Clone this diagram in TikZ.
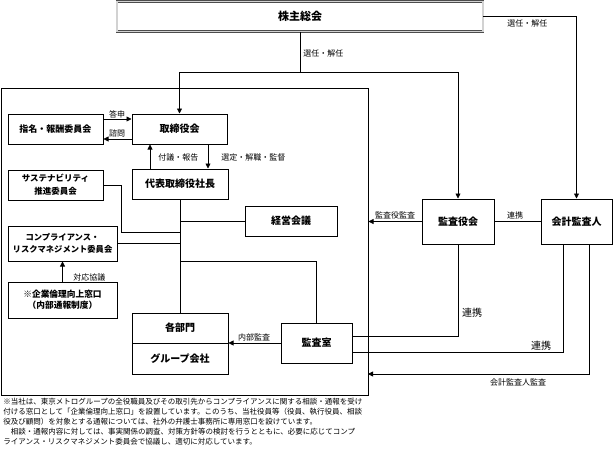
\documentclass[tikz,border=0pt]{standalone}
\usepackage{fontspec}
\setmainfont{Noto Sans CJK JP}
\usetikzlibrary{arrows.meta}
\tikzset{
    box/.style = {draw, line width=1pt, align=center, inner sep=0pt,
        font=\bfseries\fontsize{10}{12}\selectfont},
    lbl/.style = {inner sep=0pt, font=\fontsize{8}{9}\selectfont},
    arr/.style = {-{Triangle[length=5pt,width=5pt]}}
}

\begin{document}
\begin{tikzpicture}[x=1pt, y=-1pt, line width=0.8pt]
\useasboundingbox (0,0) rectangle (613,455);
% boxes
\node[box, draw=gray!60!black, double=gray!35, double distance=1.2pt, line width=0.6pt,
    minimum width=366pt, minimum height=30pt, font=\bfseries\fontsize{11}{13}\selectfont]
    (kabu) at (300,16.5) {株主総会};
\node[box, minimum width=367pt, minimum height=307pt] (frame) at (184.5,241.5) {};
\node[box, minimum width=95pt, minimum height=30pt, font=\bfseries\fontsize{9}{11}\selectfont]
    (shimei) at (55.5,129) {指名・報酬委員会};
\node[box, minimum width=95pt, minimum height=30pt] (torishimari) at (179.5,129) {取締役会};
\node[box, minimum width=96pt, minimum height=30pt] (daihyo) at (180,184) {代表取締役社長};
\node[box, minimum width=95pt, minimum height=30pt, font=\bfseries\fontsize{8.5}{13}\selectfont]
    (sustain) at (55.5,185) {サステナビリティ\\推進委員会};
\node[box, minimum width=92pt, minimum height=30pt] (keiei) at (291,221) {経営会議};
\node[box, minimum width=109pt, minimum height=35pt, font=\bfseries\fontsize{8.3}{12}\selectfont]
    (compla) at (62.5,243.5) {コンプライアンス・\\リスクマネジメント委員会};
\node[box, minimum width=109pt, minimum height=36pt, font=\bfseries\fontsize{8.7}{11}\selectfont]
    (rinri) at (62.5,300) {※企業倫理向上窓口\\（内部通報制度）};
\node[box, minimum width=96pt, minimum height=30pt] (bumon) at (180,328) {各部門};
\node[box, minimum width=96pt, minimum height=31pt] (group) at (180,358.5) {グループ会社};
\node[box, minimum width=71pt, minimum height=40pt] (kansashitsu) at (316.5,343) {監査室};
\node[box, minimum width=72pt, minimum height=45pt] (kansayaku) at (458,221.5) {監査役会};
\node[box, minimum width=71pt, minimum height=45pt] (kaikei) at (576.5,221.5) {会計監査人};
% connectors
\coordinate (split) at (300,72);
\coordinate (sbend) at (121,232);
\coordinate (kbranch) at (180,261);
\coordinate (audit) at (368,374);
\draw (kabu.south) -- (split);
\draw[arr] (split) -| (torishimari.north);
\draw[arr] (split) -| (kansayaku.north);
\draw[arr] (kabu.east) -| (kaikei.north);
\draw[arr] ([yshift=10pt]shimei.east) -- ([yshift=10pt]torishimari.west);
\draw[arr] ([yshift=-10pt]torishimari.west) -- ([yshift=-10pt]shimei.east);
\draw[arr] ([xshift=-30pt]daihyo.north) -- ([xshift=-30pt]daihyo.north |- torishimari.south);
\draw[arr] ([xshift=28pt]daihyo.north |- torishimari.south) -- ([xshift=28pt]daihyo.north);
\draw (daihyo.south) -- (bumon.north);
\draw (keiei.west) -- (keiei.west -| daihyo.south);
\draw (sustain.east) -| (sbend) -- (sbend -| daihyo.south);
\draw (compla.east) -- (compla.east -| daihyo.south);
\draw (kbranch) -| (kansashitsu.north);
\draw[arr] (rinri.north) -- (compla.south);
\draw[arr] (kansashitsu.west) -- (kansashitsu.west -| group.east);
\draw[arr] (kansayaku.west) -- (kansayaku.west -| frame.east);
\draw (kansayaku.east) -- (kaikei.west);
\draw (kansayaku.south) |- ([yshift=7pt]kansashitsu.east);
\draw ([xshift=-13.5pt]kaikei.south) |- ([yshift=-9pt]kansashitsu.east);
\draw[arr] ([xshift=12.5pt]kaikei.south) |- (audit);
% labels
\node[lbl, anchor=west] (senin1) at (303,53) {選任・解任};
\node[lbl, anchor=west] (senin2) at (507,23) {選任・解任};
\node[lbl] (toushin) at (117,114) {答申};
\node[lbl] (shimon) at (117,133) {諮問};
\node[lbl, anchor=west] (fugi) at (158,157) {付議・報告};
\node[lbl, anchor=west] (sentei) at (221,157) {選定・解職・監督};
\node[lbl, anchor=west] (taiou) at (73,277) {対応協議};
\node[lbl] (naibu) at (254,337) {内部監査};
\node[lbl] (yakukansa) at (395,215) {監査役監査};
\node[lbl] (renkei1) at (515,215) {連携};
\node[lbl, font=\fontsize{10}{12}\selectfont] (renkei2) at (472,313) {連携};
\node[lbl, font=\fontsize{10}{12}\selectfont] (renkei3) at (541,346) {連携};
\node[lbl] (kaikeikansa) at (518,382) {会計監査人監査};
% note
\node[anchor=north west, inner sep=0pt, align=left, font=\fontsize{7.5}{10}\selectfont] (note) at (3,398)
    {※当社は、東京メトログループの全役職員及びその取引先からコンプライアンスに関する相談・通報を受け\\
    付ける窓口として「企業倫理向上窓口」を設置しています。このうち、当社役員等（役員、執行役員、相談\\
    役及び顧問）を対象とする通報については、社外の弁護士事務所に専用窓口を設けています。\\
    　相談・通報内容に対しては、事実関係の調査、対策方針等の検討を行うとともに、必要に応じてコンプ\\
    ライアンス・リスクマネジメント委員会で協議し、適切に対応しています。};
\end{tikzpicture}
\end{document}
